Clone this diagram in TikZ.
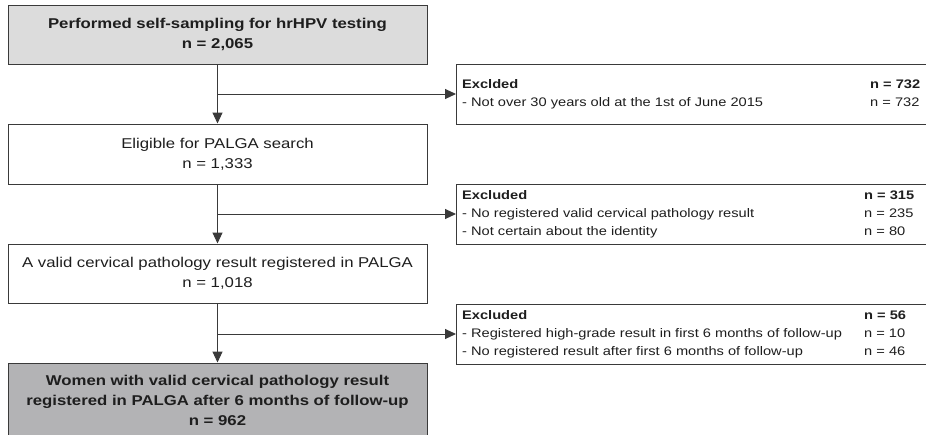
\documentclass[tikz,border=0pt]{standalone}
\usepackage{fontspec}
\setmainfont{Liberation Sans}[FakeStretch=1.18]
\usetikzlibrary{arrows.meta}
\definecolor{linegray}{HTML}{3A3A3A}
\definecolor{textgray}{HTML}{1E1E1E}
\definecolor{lightbox}{HTML}{DCDCDC}
\definecolor{darkbox}{HTML}{B3B3B5}

\begin{document}
\begin{tikzpicture}[x=1pt,y=-1pt,
  flow/.style={draw=linegray, line width=1pt, -{Triangle[length=11pt,width=10pt]}},
  mainbox/.style={draw=linegray, line width=1pt, minimum width=419pt,
    align=center, inner sep=0pt, text=textgray,
    font=\fontsize{14.2}{20}\selectfont},
  boldbox/.style={mainbox, font=\bfseries\fontsize{14.2}{20}\selectfont},
  exclbox/.style={draw=linegray, line width=1pt, anchor=west, text=textgray,
    minimum width=500pt, minimum height=60pt, inner xsep=6pt, inner ysep=0pt,
    font=\fontsize{12.4}{18}\selectfont},
]
\useasboundingbox (0,0) rectangle (926,434);
\clip (0,0) rectangle (926,434);

% main flow
\node[boldbox, fill=lightbox, minimum height=59pt] (b1) at (217.5,34.5)
  {Performed self-sampling for hrHPV testing\\ n = 2,065};
\node[mainbox, minimum height=60pt] (b2) at (217.5,154)
  {Eligible for PALGA search\\ n = 1,333};
\node[mainbox, minimum height=59pt] (b3) at (217.5,273.5)
  {A valid cervical pathology result registered in PALGA\\ n = 1,018};
\node[boldbox, fill=darkbox, minimum height=74pt] (b4) at (217.5,400)
  {Women with valid cervical pathology result\\
   registered in PALGA after 6 months of follow-up\\ n = 962};

% exclusion boxes: frame runs past the page border, text set from the left edge
\node[exclbox] (r1) at (456,94) {};
\node[anchor=west, inner sep=0pt, text=textgray, font=\fontsize{12.4}{18}\selectfont]
  (t1) at (462,94) {\begin{tabular}{@{}p{408pt}@{}l@{}}
  \textbf{Exclded} & \textbf{n = 732}\\
  - Not over 30 years old at the 1st of June 2015 & n = 732
\end{tabular}};
\node[exclbox] (r2) at (456,214) {};
\node[anchor=west, inner sep=0pt, text=textgray, font=\fontsize{12.4}{18}\selectfont]
  (t2) at (462,214) {\begin{tabular}{@{}p{402pt}@{}l@{}}
  \textbf{Excluded} & \textbf{n = 315}\\
  - No registered valid cervical pathology result & n = 235\\
  - Not certain about the identity & n = 80
\end{tabular}};
\node[exclbox] (r3) at (456,334) {};
\node[anchor=west, inner sep=0pt, text=textgray, font=\fontsize{12.4}{18}\selectfont]
  (t3) at (462,334) {\begin{tabular}{@{}p{402pt}@{}l@{}}
  \textbf{Excluded} & \textbf{n = 56}\\
  - Registered high-grade result in first 6 months of follow-up & n = 10\\
  - No registered result after first 6 months of follow-up & n = 46
\end{tabular}};

% connectors
\draw[flow] (b1.south) -- (b2.north);
\draw[flow] (b2.south) -- (b3.north);
\draw[flow] (b3.south) -- (b4.north);
\draw[flow] (b1.south |- r1.west) -- (r1.west);
\draw[flow] (b2.south |- r2.west) -- (r2.west);
\draw[flow] (b3.south |- r3.west) -- (r3.west);
\end{tikzpicture}
\end{document}
